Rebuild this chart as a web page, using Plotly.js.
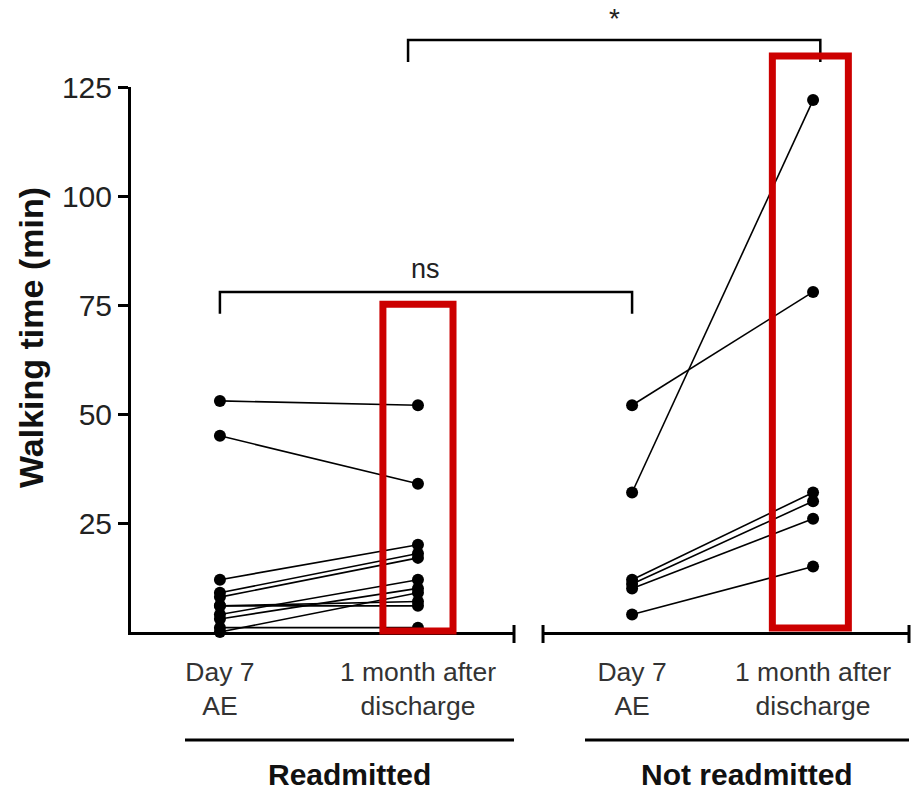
<!DOCTYPE html>
<html>
<head>
<meta charset="utf-8">
<script src="https://cdn.plot.ly/plotly-3.0.1.min.js"></script>
<style>html,body{margin:0;padding:0;background:#fff;}#chart{width:914px;height:793px;}</style>
</head>
<body>
<div id="chart"></div>
<script>
// ---- Data (walking time, min) ----
var timepoints = ["Day 7<br>AE", "1 month after<br>discharge"];
var groups = ["Readmitted", "Not readmitted"];
var readmittedDay7   = [53, 45, 12, 9, 8, 6, 6, 4, 3, 1, 0];
var readmitted1Month = [52, 34, 20, 18, 17, 6, 7, 12, 10, 1, 9];
var notReadmittedDay7   = [52, 32, 12, 11, 10, 4];
var notReadmitted1Month = [78, 122, 32, 30, 26, 15];
var yTicks = [25, 50, 75, 100, 125];
var yTitle = "Walking time (min)";
var sigLabels = ["ns", "*"];

// ---- Layout geometry ----
var W = 914, H = 793;
var mL = 131, mR = 5, mT = 87, mB = 161;
var dom1 = [0, 0.4923], dom2 = [0.5296, 1];
var range1 = [-0.449, 1.485], range2 = [-0.492, 1.530];
var yRange = [0, 125];
var FONT = "Arial, 'Liberation Sans', sans-serif";
var plotW = W - mL - mR, plotH = H - mT - mB;

function xPaper(dom, rng, v) { return dom[0] + (v - rng[0]) / (rng[1] - rng[0]) * (dom[1] - dom[0]); }
function yPaper(v) { return (v - yRange[0]) / (yRange[1] - yRange[0]); }
function yPx(px) { return px / plotH; } // pixel offset -> paper units
function xAbs(px) { return (px - mL) / plotW; }
function yAbs(px) { return (H - mB - px) / plotH; }

var traces = [];
function addGroup(day7, month1, xa) {
  for (var i = 0; i < day7.length; i++) {
    traces.push({
      x: [timepoints[0], timepoints[1]], y: [day7[i], month1[i]],
      xaxis: xa, yaxis: 'y', type: 'scatter', mode: 'lines+markers',
      line: {color: '#000', width: 1.6},
      marker: {color: '#000', size: 12},
      cliponaxis: false, showlegend: false, hoverinfo: 'skip'
    });
  }
}
addGroup(readmittedDay7, readmitted1Month, 'x');
addGroup(notReadmittedDay7, notReadmitted1Month, 'x2');

var black = '#000', red = '#cc0000';
var shapes = [];
// axis end caps of the broken x axis
[dom1[1], dom2[0], dom2[1]].forEach(function (px) {
  shapes.push({type: 'line', xref: 'paper', yref: 'paper', x0: px, x1: px, y0: yPx(7), y1: -yPx(11), line: {color: black, width: 3}});
});
// ns bracket
var nsY = 78, nsLeg = 73;
var nsX0 = xPaper(dom1, range1, 0), nsX1 = xPaper(dom2, range2, 0);
shapes.push({type: 'path', xref: 'paper', yref: 'paper',
  path: 'M' + nsX0 + ',' + yPaper(nsLeg) + ' L' + nsX0 + ',' + yPaper(nsY) + ' L' + nsX1 + ',' + yPaper(nsY) + ' L' + nsX1 + ',' + yPaper(nsLeg),
  line: {color: black, width: 2.5}});
// * bracket
var stY = 1 + yPx(47), stLeg = 1 + yPx(25);
var stX0 = xPaper(dom1, range1, 0.95), stX1 = xPaper(dom2, range2, 1.04);
shapes.push({type: 'path', xref: 'paper', yref: 'paper',
  path: 'M' + stX0 + ',' + stLeg + ' L' + stX0 + ',' + stY + ' L' + stX1 + ',' + stY + ' L' + stX1 + ',' + stLeg,
  line: {color: black, width: 2.5}});
// red highlight boxes
shapes.push({type: 'rect', xref: 'paper', yref: 'paper',
  x0: xPaper(dom1, range1, 0.823), x1: xPaper(dom1, range1, 1.177),
  y0: -yPx(-1), y1: yPaper(75.2), line: {color: red, width: 7}, fillcolor: 'rgba(0,0,0,0)'});
shapes.push({type: 'rect', xref: 'paper', yref: 'paper',
  x0: xPaper(dom2, range2, 0.775), x1: xPaper(dom2, range2, 1.195),
  y0: yPaper(0.9), y1: 1 + yPx(31), line: {color: red, width: 7}, fillcolor: 'rgba(0,0,0,0)'});
// group underlines
var ulY = -yPx(108);
shapes.push({type: 'line', xref: 'paper', yref: 'paper', x0: xAbs(185), x1: dom1[1], y0: ulY, y1: ulY, line: {color: black, width: 3}});
shapes.push({type: 'line', xref: 'paper', yref: 'paper', x0: xAbs(585), x1: dom2[1], y0: ulY, y1: ulY, line: {color: black, width: 3}});

var annotations = [
  {text: sigLabels[0], xref: 'paper', yref: 'paper', x: (nsX0 + nsX1) / 2, xanchor: 'center', y: yPaper(nsY) + yPx(6), yanchor: 'bottom', showarrow: false, font: {family: FONT, size: 27, color: '#222'}},
  {text: sigLabels[1], xref: 'paper', yref: 'paper', x: (stX0 + stX1) / 2, xanchor: 'center', y: stY + yPx(4), yanchor: 'bottom', showarrow: false, font: {family: FONT, size: 28, color: '#222'}},
  {text: '<b>' + groups[0] + '</b>', xref: 'paper', yref: 'paper', x: (xAbs(185) + dom1[1]) / 2, xanchor: 'center', y: yAbs(792), yanchor: 'bottom', borderpad: 0, showarrow: false, font: {family: FONT, size: 30, color: '#111'}},
  {text: '<b>' + groups[1] + '</b>', xref: 'paper', yref: 'paper', x: (xAbs(585) + dom2[1]) / 2, xanchor: 'center', y: yAbs(792), yanchor: 'bottom', borderpad: 0, showarrow: false, font: {family: FONT, size: 30, color: '#111'}},
  {text: '<b>' + yTitle + '</b>', xref: 'paper', yref: 'paper', x: xAbs(31), xanchor: 'center', y: yAbs(338), yanchor: 'middle', textangle: -90, showarrow: false, font: {family: FONT, size: 34, color: '#111'}}
];

var xCommon = {
  type: 'category', showline: true, linecolor: black, linewidth: 3, ticks: '',
  showgrid: false, zeroline: false, ticklabelstandoff: 14,
  tickfont: {family: FONT, size: 26.5, color: '#333'}, fixedrange: true
};
var layout = {
  width: W, height: H, margin: {l: mL, r: mR, t: mT, b: mB},
  paper_bgcolor: '#fff', plot_bgcolor: '#fff', showlegend: false,
  xaxis: Object.assign({}, xCommon, {domain: dom1, range: range1, anchor: 'y'}),
  xaxis2: Object.assign({}, xCommon, {domain: dom2, range: range2, anchor: 'y'}),
  yaxis: {
    range: yRange, tickvals: yTicks, ticktext: yTicks.map(String),
    showline: true, linecolor: black, linewidth: 3, ticks: 'outside', ticklen: 10, tickwidth: 3, tickcolor: black,
    showgrid: false, zeroline: false, tickfont: {family: FONT, size: 30, color: '#222'}
  },
  shapes: shapes, annotations: annotations
};
Plotly.newPlot('chart', traces, layout, {staticPlot: true, displayModeBar: false});
</script>
</body>
</html>
